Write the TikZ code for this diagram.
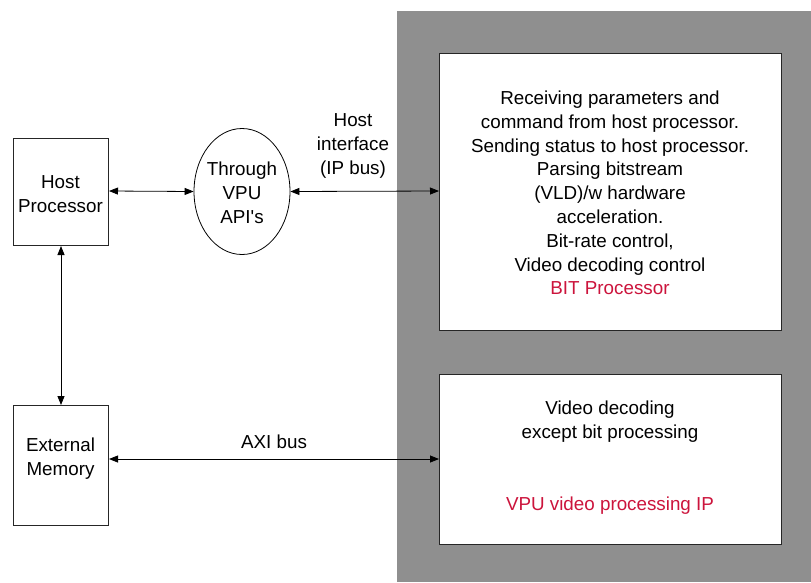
\documentclass[tikz,border=0pt]{standalone}
\usepackage{fontspec}
\setmainfont{Liberation Sans}
\usetikzlibrary{shapes.geometric,arrows.meta}
\definecolor{panelgray}{RGB}{143,143,143}
\definecolor{bitred}{RGB}{204,20,60}
\tikzset{
  blk/.style={draw=black!85, line width=1pt, fill=white, inner sep=0pt},
  txt/.style={font=\fontsize{18.8}{23.8}\selectfont, align=center, inner sep=0pt},
  conn/.style={line width=0.8pt, {Triangle[length=9pt,width=7pt]}-{Triangle[length=9pt,width=7pt]}},
}
\begin{document}
\begin{tikzpicture}[x=1pt,y=-1pt]
\useasboundingbox (0,0) rectangle (811,582);
\fill[panelgray] (397,11) rectangle (811,582);
\node[blk, minimum width=342pt, minimum height=277pt, anchor=north west] (bit) at (439,53) {};
\node[blk, minimum width=342pt, minimum height=170pt, anchor=north west] (vpu) at (439,374) {};
\node[blk, minimum width=95pt, minimum height=107pt, anchor=north west] (host) at (13,138) {};
\node[blk, minimum width=95pt, minimum height=120pt, anchor=north west] (mem) at (13,405) {};
\node[draw=black, line width=0.8pt, ellipse, minimum width=96pt, minimum height=126pt, inner sep=0pt] (api) at (242,191.5) {};
\node[txt] (hostt) at (60.5,194) {Host\\Processor};
\node[txt] (memt) at (60.5,459) {External\\Memory};
\node[txt] (apit) at (242,193) {Through\\VPU\\API\textquotesingle s};
\node[txt] (hif) at (353,146) {Host\\interface\\(IP bus)};
\node[txt] (axi) at (274,442) {AXI bus};
\node[txt] (bitt) at (610,193) {Receiving parameters and\\command from host processor.\\Sending status to host processor.\\Parsing bitstream\\(VLD)/w hardware\\acceleration.\\Bit-rate control,\\Video decoding control\\\textcolor{bitred}{BIT Processor}};
\node[txt] (vput) at (610,422) {Video decoding\\except bit processing};
\node[txt, text=bitred] (vpur) at (610,506) {VPU video processing IP};
\draw[conn] (host.east |- 0,191) -- (api.west);
\draw[conn] (api.east) -- (bit.west |- 0,191);
\draw[conn] (host.south) -- (mem.north);
\draw[conn] (mem.east |- 0,459) -- (vpu.west |- 0,459);
\end{tikzpicture}
\end{document}
